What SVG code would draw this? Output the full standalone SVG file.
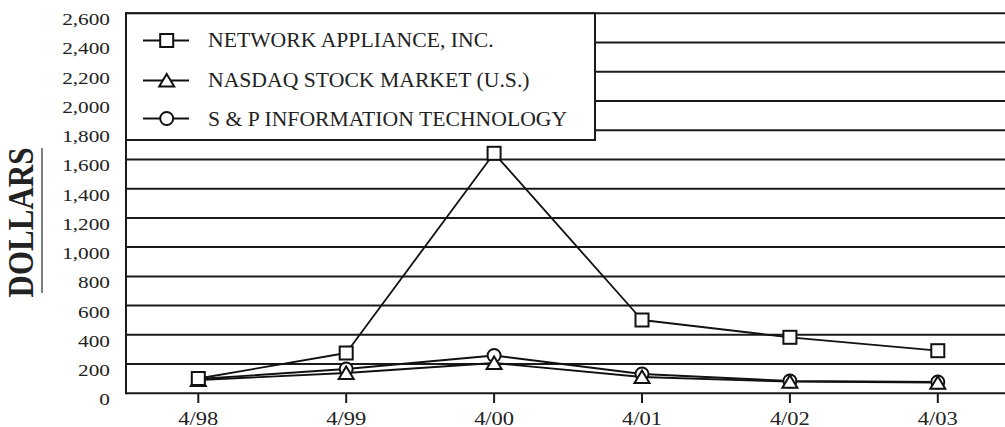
<svg xmlns="http://www.w3.org/2000/svg" width="1005" height="427" viewBox="0 0 1005 427">
<style>
.grid{stroke:#1a1a1a;stroke-width:2;fill:none}
.box{stroke:#1a1a1a;stroke-width:2;fill:#fff}
.ser{stroke:#111;stroke-width:1.8;fill:none;stroke-linejoin:round}
.mk{stroke:#111;stroke-width:2;fill:#fff}
.lab{font-family:"Liberation Serif","Times New Roman",serif;fill:#222}
</style>
<defs>
<rect id="sq" x="-6.5" y="-6.5" width="13" height="13" class="mk"/>
<polygon id="tri" points="0,-6.5 7.5,6 -7.5,6" class="mk"/>
<circle id="cir" r="6.5" class="mk"/>
</defs>
<rect width="1005" height="427" fill="#fff"/>
<g id="grid">
<line class="grid" x1="126" y1="393.3" x2="1005" y2="393.3"/>
<line class="grid" x1="126" y1="364.1" x2="1005" y2="364.1"/>
<line class="grid" x1="126" y1="334.8" x2="1005" y2="334.8"/>
<line class="grid" x1="126" y1="305.6" x2="1005" y2="305.6"/>
<line class="grid" x1="126" y1="276.4" x2="1005" y2="276.4"/>
<line class="grid" x1="126" y1="247.1" x2="1005" y2="247.1"/>
<line class="grid" x1="126" y1="217.9" x2="1005" y2="217.9"/>
<line class="grid" x1="126" y1="188.7" x2="1005" y2="188.7"/>
<line class="grid" x1="126" y1="159.5" x2="1005" y2="159.5"/>
<line class="grid" x1="126" y1="130.2" x2="1005" y2="130.2"/>
<line class="grid" x1="126" y1="101.0" x2="1005" y2="101.0"/>
<line class="grid" x1="126" y1="71.8" x2="1005" y2="71.8"/>
<line class="grid" x1="126" y1="42.5" x2="1005" y2="42.5"/>
<line class="grid" x1="126" y1="13.3" x2="1005" y2="13.3"/>
<line class="grid" x1="126" y1="12.3" x2="126" y2="394.3"/>
<line class="grid" x1="198.3" y1="393.3" x2="198.3" y2="403"/>
<line class="grid" x1="346.2" y1="393.3" x2="346.2" y2="403"/>
<line class="grid" x1="494.1" y1="393.3" x2="494.1" y2="403"/>
<line class="grid" x1="642" y1="393.3" x2="642" y2="403"/>
<line class="grid" x1="789.9" y1="393.3" x2="789.9" y2="403"/>
<line class="grid" x1="937.8" y1="393.3" x2="937.8" y2="403"/>
</g>
<g id="y-labels" class="lab" font-size="17" text-anchor="end" transform="scale(1.25,1)">
<text x="88" y="405.3">0</text>
<text x="88" y="376.1">200</text>
<text x="88" y="346.8">400</text>
<text x="88" y="317.6">600</text>
<text x="88" y="288.4">800</text>
<text x="88" y="259.1">1,000</text>
<text x="88" y="229.9">1,200</text>
<text x="88" y="200.7">1,400</text>
<text x="88" y="171.5">1,600</text>
<text x="88" y="142.2">1,800</text>
<text x="88" y="113.0">2,000</text>
<text x="88" y="83.8">2,200</text>
<text x="88" y="54.5">2,400</text>
<text x="88" y="25.3">2,600</text>
</g>
<g id="x-labels" class="lab" font-size="18" text-anchor="middle" transform="scale(1.25,1)">
<text x="158.6" y="425">4/98</text>
<text x="277" y="425">4/99</text>
<text x="395.3" y="425">4/00</text>
<text x="513.6" y="425">4/01</text>
<text x="631.9" y="425">4/02</text>
<text x="750.2" y="425">4/03</text>
</g>
<g id="axis-title">
<text class="lab" font-size="31" font-weight="bold" text-anchor="middle" fill="#111" transform="translate(33,222.5) scale(1.13,1) rotate(-90)">DOLLARS</text>
<line x1="42" y1="148" x2="42" y2="293" stroke="#555" stroke-width="1.5"/>
</g>
<g id="connectors">
<polyline class="ser" id="line-sp" points="198.3,379 346.2,369 494.1,355.5 642,374 789.9,381 937.8,382"/>
<polyline class="ser" id="line-nasdaq" points="198.3,380 346.2,373 494.1,363 642,377 789.9,381.7 937.8,382.7"/>
<polyline class="ser" id="line-netapp" points="198.3,378.5 346.2,353 494.1,153.3 642,320 789.9,337.3 937.8,350.7"/>
</g>
<g id="series-sp">
<use href="#cir" x="198.3" y="379"/>
<use href="#cir" x="346.2" y="369"/>
<use href="#cir" x="494.1" y="355.5"/>
<use href="#cir" x="642" y="374"/>
<use href="#cir" x="789.9" y="381"/>
<use href="#cir" x="937.8" y="382"/>
</g>
<g id="series-nasdaq">
<use href="#tri" x="198.3" y="380"/>
<use href="#tri" x="346.2" y="373"/>
<use href="#tri" x="494.1" y="363"/>
<use href="#tri" x="642" y="377"/>
<use href="#tri" x="789.9" y="381.7"/>
<use href="#tri" x="937.8" y="382.7"/>
</g>
<g id="series-netapp">
<use href="#sq" x="198.3" y="378.5"/>
<use href="#sq" x="346.2" y="353"/>
<use href="#sq" x="494.1" y="153.3"/>
<use href="#sq" x="642" y="320"/>
<use href="#sq" x="789.9" y="337.3"/>
<use href="#sq" x="937.8" y="350.7"/>
</g>
<g id="legend">
<rect x="126" y="13.3" width="469" height="126.7" class="box"/>
<line class="ser" x1="143" y1="40.5" x2="189" y2="40.5"/>
<use href="#sq" x="166.7" y="40.5"/>
<line class="ser" x1="143" y1="80.5" x2="189" y2="80.5"/>
<use href="#tri" x="166.7" y="80.5"/>
<line class="ser" x1="143" y1="118.5" x2="189" y2="118.5"/>
<use href="#cir" x="166.7" y="118.5"/>
<g class="lab" font-size="20" transform="scale(1.085,1)">
<text x="191.7" y="47">NETWORK APPLIANCE, INC.</text>
<text x="191.7" y="87">NASDAQ STOCK MARKET (U.S.)</text>
<text x="191.7" y="126">S &amp; P INFORMATION TECHNOLOGY</text>
</g>
</g>
</svg>
